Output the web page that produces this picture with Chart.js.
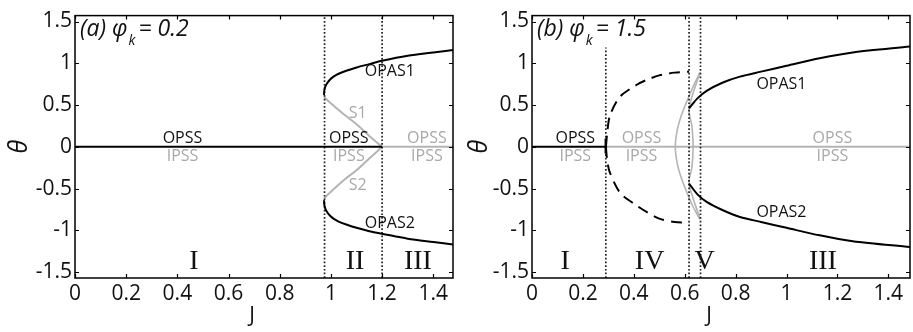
<!DOCTYPE html>
<html lang="en">
<head>
<meta charset="UTF-8">
<title>theta vs J</title>
<script src="https://cdn.jsdelivr.net/npm/chart.js@4/dist/chart.umd.min.js"></script>
<style>
    html, body {margin: 0; padding: 0; background: #fff; overflow: hidden;}
    #wrap {position: relative; width: 913px; height: 332px;}
    #boxA {position: absolute; left: 0; top: 0; width: 460px; height: 332px;}
    #boxB {position: absolute; left: 460px; top: 0; width: 453px; height: 332px;}
</style>
</head>
<body>
<div id="wrap">
    <div id="boxA"><canvas id="chartA"></canvas></div>
    <div id="boxB"><canvas id="chartB"></canvas></div>
</div>
<script>
    // tick values
    const xTicks = [0, 0.2, 0.4, 0.6, 0.8, 1, 1.2, 1.4];
    const yTicks = [-1.5, -1, -0.5, 0, 0.5, 1, 1.5];

    // ---- panel (a), phi_k = 0.2 : [J, theta]
    const aOpssStable = [[0, 0], [1.2, 0]];
    const aOpssUnstable = [[1.2, 0], [1.48, 0]];
    const aOPAS1 = [[0.973, 0.62], [0.974, 0.67], [0.978, 0.72], [0.985, 0.76], [0.995, 0.8], [1.01, 0.84], [1.03, 0.875],
        [1.06, 0.91], [1.1, 0.95], [1.15, 0.99], [1.2, 1.03], [1.3, 1.09], [1.4, 1.13], [1.48, 1.16]];
    const aOPAS2 = [[0.973, -0.64], [0.974, -0.69], [0.978, -0.74], [0.985, -0.78], [0.995, -0.82], [1.01, -0.86], [1.03, -0.895],
        [1.06, -0.93], [1.1, -0.97], [1.15, -1.01], [1.2, -1.04], [1.3, -1.1], [1.4, -1.14], [1.48, -1.17]];
    const aS1 = [[0.973, 0.6], [0.985, 0.56], [1.05, 0.39], [1.1, 0.27], [1.15, 0.13], [1.2, 0]];
    const aS2 = [[0.973, -0.62], [0.985, -0.58], [1.05, -0.4], [1.1, -0.28], [1.15, -0.14], [1.2, 0]];
    const aBounds = [0.975, 1.2];
    const aText = [['OPSS', 0.42, 0.1, 'k'], ['IPSS', 0.42, -0.12, 'g'], ['OPSS', 1.07, 0.1, 'k'], ['IPSS', 1.07, -0.12, 'g'],
        ['OPSS', 1.375, 0.1, 'g'], ['IPSS', 1.375, -0.12, 'g'], ['OPAS1', 1.23, 0.9, 'k'], ['OPAS2', 1.23, -0.92, 'k'],
        ['S1', 1.105, 0.4, 'g'], ['S2', 1.105, -0.46, 'g']];
    const aRoman = [['I', 0.465], ['II', 1.094], ['III', 1.34]];

    // ---- panel (b), phi_k = 1.5
    const bOpssStable = [[0, 0], [0.29, 0]];
    const bOpssUnstable = [[0.29, 0], [1.485, 0]];
    const bCusp = [[0.29, -0.08], [0.29, 0.1]];
    const bDashUp = [[0.29, 0], [0.295, 0.15], [0.306, 0.37], [0.346, 0.6], [0.41, 0.74], [0.45, 0.8], [0.5, 0.855],
        [0.56, 0.888], [0.617, 0.9]];
    const bDashDown = [[0.29, 0], [0.295, -0.15], [0.305, -0.3], [0.346, -0.55], [0.4, -0.68], [0.45, -0.78], [0.5, -0.86],
        [0.56, -0.9], [0.617, -0.91]];
    const bOPAS1 = [[0.617, 0.46], [0.65, 0.58], [0.686, 0.67], [0.75, 0.77], [0.817, 0.84], [0.9, 0.9], [1.0, 0.97],
        [1.13, 1.06], [1.26, 1.13], [1.485, 1.2]];
    const bOPAS2 = [[0.617, -0.44], [0.65, -0.57], [0.686, -0.66], [0.75, -0.76], [0.817, -0.84], [0.9, -0.9], [1.0, -0.97],
        [1.13, -1.06], [1.26, -1.13], [1.485, -1.2]];
    const bLensOuter = [[0.66, 0.89], [0.63, 0.7], [0.605, 0.52], [0.585, 0.36], [0.57, 0.19], [0.563, 0], [0.57, -0.19],
        [0.585, -0.36], [0.605, -0.52], [0.63, -0.7], [0.66, -0.87]];
    const bLensInner = [[0.66, 0.89], [0.617, 0.46], [0.628, 0.25], [0.633, 0], [0.628, -0.25], [0.617, -0.44], [0.66, -0.86]];
    const bBounds = [0.29, 0.617, 0.662];
    const bText = [['OPSS', 0.17, 0.1, 'k'], ['IPSS', 0.17, -0.12, 'g'], ['OPSS', 0.43, 0.1, 'g'], ['IPSS', 0.43, -0.12, 'g'],
        ['OPSS', 1.18, 0.1, 'g'], ['IPSS', 1.18, -0.12, 'g'], ['OPAS1', 0.98, 0.75, 'k'], ['OPAS2', 0.98, -0.78, 'k']];
    const bRoman = [['I', 0.13], ['IV', 0.462], ['V', 0.678], ['III', 1.143]];

    const TH = Math.PI / 2;
    const GRAY = '#b4b4b4';
    const GRAYTXT = '#a8a8a8';

    function pts(arr) {
        return arr.map(p => ({x: p[0], y: p[1]}));
    }

    function line(arr, color, extra) {
        return Object.assign({data: pts(arr), borderColor: color, borderWidth: 2, pointRadius: 0, tension: 0.3, fill: false}, extra || {});
    }

    function dotted(x, top) {
        return line([[x, -TH], [x, top]], '#222', {borderWidth: 1.7, borderDash: [1.7, 2], tension: 0});
    }

    function decor(title, sub, value, texts, romans) {
        return {
            id: 'decor',
            afterDraw(chart) {
                const ctx = chart.ctx, a = chart.chartArea, sx = chart.scales.x, sy = chart.scales.y;
                ctx.save();
                // box + inward ticks
                ctx.strokeStyle = '#000';
                ctx.lineWidth = 1.5;
                ctx.strokeRect(a.left, a.top, a.right - a.left, a.bottom - a.top);
                ctx.lineWidth = 1.2;
                ctx.beginPath();
                xTicks.forEach(v => {
                    const px = Math.round(sx.getPixelForValue(v)) + 0.5;
                    ctx.moveTo(px, a.bottom); ctx.lineTo(px, a.bottom - 4);
                    ctx.moveTo(px, a.top); ctx.lineTo(px, a.top + 4);
                });
                yTicks.forEach(v => {
                    const py = Math.round(sy.getPixelForValue(v)) + 0.5;
                    ctx.moveTo(a.left, py); ctx.lineTo(a.left + 4, py);
                    ctx.moveTo(a.right, py); ctx.lineTo(a.right - 4, py);
                });
                ctx.stroke();

                // curve labels
                ctx.font = '16px "Open Sans"';
                ctx.textAlign = 'center';
                ctx.textBaseline = 'middle';
                texts.forEach(t => {
                    ctx.fillStyle = t[3] === 'k' ? '#111' : GRAYTXT;
                    ctx.fillText(t[0], sx.getPixelForValue(t[1]), sy.getPixelForValue(t[2]));
                });

                // region numerals
                ctx.font = '28px "Liberation Serif"';
                ctx.fillStyle = '#111';
                romans.forEach(r => ctx.fillText(r[0], sx.getPixelForValue(r[1]), sy.getPixelForValue(-1.375)));

                // x axis title
                ctx.font = '21px "Open Sans"';
                ctx.fillText('J', (a.left + a.right) / 2 - 12, 316);

                // panel title
                ctx.textAlign = 'left';
                ctx.textBaseline = 'alphabetic';
                let x = a.left + 5;
                ctx.font = 'italic 23px "Open Sans"';
                ctx.fillText(title, x, 36);
                x += ctx.measureText(title).width + 1;
                ctx.font = 'italic 14px "Open Sans"';
                ctx.fillText(sub, x, 45);
                x += ctx.measureText(sub).width + 3;
                ctx.font = 'italic 23px "Open Sans"';
                ctx.fillText(value, x, 36);
                ctx.restore();
            }
        };
    }

    function makeChart(id, datasets, xMax, yWidth, padRight, plugin) {
        return new Chart(document.getElementById(id), {
            type: 'line',
            data: {datasets: datasets},
            options: {
                responsive: true,
                maintainAspectRatio: false,
                animation: false,
                layout: {padding: {top: 5, right: padRight, left: 0, bottom: 0}},
                plugins: {legend: {display: false}, tooltip: {enabled: false}},
                scales: {
                    x: {
                        type: 'linear', min: 0, max: xMax,
                        afterBuildTicks: s => { s.ticks = xTicks.map(v => ({value: v})); },
                        afterFit: s => { s.height = 54; },
                        grid: {display: false, drawTicks: false},
                        border: {display: false},
                        ticks: {color: '#111', padding: 3, maxRotation: 0, autoSkip: false,
                            font: {family: 'Open Sans', size: 21}, callback: v => String(v)}
                    },
                    y: {
                        type: 'linear', min: -TH, max: TH,
                        afterBuildTicks: s => { s.ticks = yTicks.map(v => ({value: v})); },
                        afterFit: s => { s.width = yWidth; },
                        grid: {display: false, drawTicks: false},
                        border: {display: false},
                        ticks: {color: '#111', padding: 3, font: {family: 'Open Sans', size: 21}, callback: v => String(v)},
                        title: {display: true, text: 'θ', color: '#111', padding: {top: 5, bottom: 0},
                            font: {family: 'Open Sans', size: 25, style: 'italic'}}
                    }
                }
            },
            plugins: [plugin]
        });
    }

    makeChart('chartA', [
        line(aOpssStable, '#000', {tension: 0}),
        line(aOPAS1, '#000'),
        line(aOPAS2, '#000'),
        dotted(aBounds[0], TH),
        dotted(aBounds[1], TH),
        line(aS1, GRAY),
        line(aS2, GRAY),
        line(aOpssUnstable, GRAY, {tension: 0})
    ], 1.477, 75, 7, decor('(a) φ', 'k', '= 0.2', aText, aRoman));

    makeChart('chartB', [
        line(bOpssStable, '#000', {tension: 0}),
        line(bCusp, '#000', {tension: 0, borderWidth: 2.5}),
        line(bOPAS1, '#000'),
        line(bOPAS2, '#000'),
        line(bDashUp, '#000', {borderDash: [11, 7]}),
        line(bDashDown, '#000', {borderDash: [11, 7]}),
        dotted(bBounds[0], 1.19),
        dotted(bBounds[1], TH),
        dotted(bBounds[2], TH),
        line(bLensOuter, GRAY, {borderWidth: 1.6}),
        line(bLensInner, GRAY, {borderWidth: 1.6}),
        line(bOpssUnstable, GRAY, {tension: 0})
    ], 1.485, 72, 3, decor('(b) φ', 'k', '= 1.5', bText, bRoman));
</script>
</body>
</html>
